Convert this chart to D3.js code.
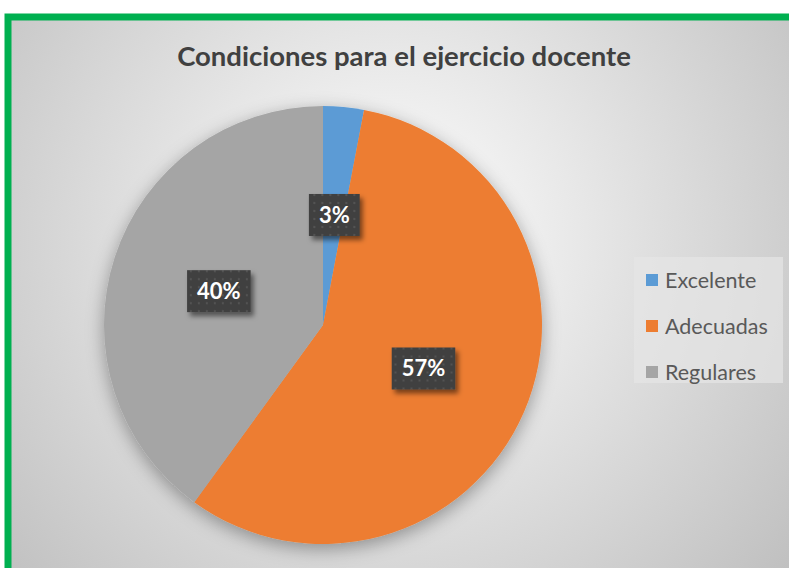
<!DOCTYPE html>
<html>
<head>
<meta charset="utf-8">
<script src="https://cdn.jsdelivr.net/npm/d3@7"></script>
<style>
  html, body { margin: 0; padding: 0; background: #fff; }
  svg { display: block; }
</style>
</head>
<body>
<div id="chart"></div>
<script>
"use strict";

const title = "Condiciones para el ejercicio docente";
const categories = ["Excelente", "Adecuadas", "Regulares"];
const values = [3, 57, 40];
const labels = ["3%", "57%", "40%"];
const colors = ["#5B9BD5", "#ED7D31", "#A5A5A5"];

const width = 789, height = 568;
const font = "Lato, 'Open Sans', sans-serif";

const svg = d3.select("#chart").append("svg")
    .attr("width", width)
    .attr("height", height);

const defs = svg.append("defs");

const bg = defs.append("radialGradient")
    .attr("id", "bg")
    .attr("gradientUnits", "userSpaceOnUse")
    .attr("cx", 390).attr("cy", 240).attr("r", 540);
bg.append("stop").attr("offset", "0%").attr("stop-color", "#ffffff");
bg.append("stop").attr("offset", "100%").attr("stop-color", "#bdbdbd");

const pieShadow = defs.append("filter").attr("id", "pieShadow")
    .attr("x", "-20%").attr("y", "-20%").attr("width", "140%").attr("height", "140%");
pieShadow.append("feDropShadow")
    .attr("dx", 0).attr("dy", 5).attr("stdDeviation", 9)
    .attr("flood-color", "#000").attr("flood-opacity", 0.35);

const boxShadow = defs.append("filter").attr("id", "boxShadow")
    .attr("x", "-30%").attr("y", "-30%").attr("width", "170%").attr("height", "170%");
boxShadow.append("feDropShadow")
    .attr("dx", 3).attr("dy", 4).attr("stdDeviation", 2.5)
    .attr("flood-color", "#000").attr("flood-opacity", 0.5);

const dots = defs.append("pattern").attr("id", "dots")
    .attr("patternUnits", "userSpaceOnUse")
    .attr("width", 8).attr("height", 8);
dots.append("rect").attr("width", 8).attr("height", 8).attr("fill", "#404040");
dots.append("circle").attr("cx", 4).attr("cy", 4).attr("r", 1.2).attr("fill", "#525252");

// chart area + green frame (cut by the window on the right and bottom)
svg.append("rect")
    .attr("x", 8).attr("y", 17)
    .attr("width", 800).attr("height", 570)
    .attr("fill", "url(#bg)")
    .attr("stroke", "#00B050")
    .attr("stroke-width", 7);

svg.append("text")
    .attr("x", 404).attr("y", 66)
    .attr("text-anchor", "middle")
    .attr("font-family", font)
    .attr("font-weight", "bold")
    .attr("font-size", 27.5)
    .attr("fill", "#404040")
    .text(title);

// pie
const cx = 323, cy = 325, radius = 219;
const pie = d3.pie().sort(null).value(d => d);
const arcs = pie(values);
const arc = d3.arc().innerRadius(0).outerRadius(radius);
const labelArc = d3.arc().innerRadius(radius * 0.5).outerRadius(radius * 0.5);

const g = svg.append("g").attr("transform", `translate(${cx},${cy})`);

g.append("g").attr("filter", "url(#pieShadow)")
  .selectAll("path")
  .data(arcs)
  .join("path")
    .attr("d", arc)
    .attr("fill", (d, i) => colors[i]);

// data labels
const labelG = g.selectAll("g.lbl")
  .data(arcs)
  .join("g")
    .attr("class", "lbl")
    .attr("transform", (d, i) => {
        const c = labelArc.centroid(d);
        if (i === 0) return `translate(${c[0] + 1},${c[1] - 1})`;
        return `translate(${c[0]},${c[1]})`;
    });

labelG.each(function(d, i) {
    const sel = d3.select(this);
    const t = sel.append("text")
        .attr("text-anchor", "middle")
        .attr("dy", "0.36em")
        .attr("font-family", font)
        .attr("font-weight", "bold")
        .attr("font-size", 22)
        .attr("fill", "#ffffff")
        .text(labels[i]);
    const w = t.node().getComputedTextLength();
    sel.insert("rect", "text")
        .attr("x", -w / 2 - 10).attr("y", -21)
        .attr("width", w + 20).attr("height", 42)
        .attr("fill", "url(#dots)")
        .attr("filter", "url(#boxShadow)");
});

// legend
const legend = svg.append("g").attr("transform", "translate(634,257)");
legend.append("rect")
    .attr("width", 149).attr("height", 126)
    .attr("fill", "#e6e6e6")
    .attr("opacity", 0.7);

const item = legend.selectAll("g.item")
  .data(categories)
  .join("g")
    .attr("class", "item")
    .attr("transform", (d, i) => `translate(12,${23 + i * 46})`);

item.append("rect")
    .attr("x", 0).attr("y", -6)
    .attr("width", 12).attr("height", 12)
    .attr("fill", (d, i) => colors[i]);

item.append("text")
    .attr("x", 19).attr("dy", "0.36em")
    .attr("font-family", font)
    .attr("font-size", 21.5)
    .attr("fill", "#595959")
    .text(d => d);
</script>
</body>
</html>
